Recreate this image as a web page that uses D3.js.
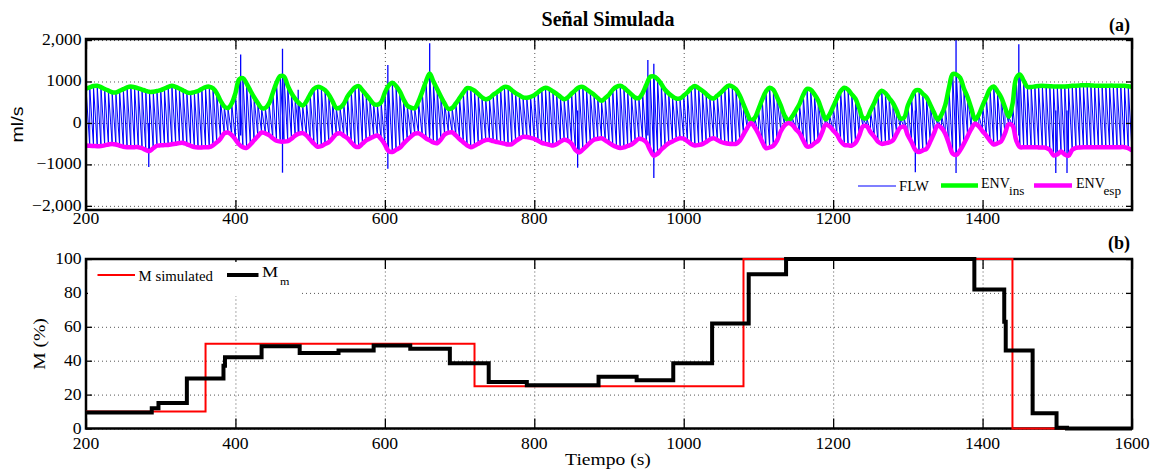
<!DOCTYPE html>
<html>
<head>
<meta charset="utf-8">
<script src="https://cdn.jsdelivr.net/npm/d3@7"></script>
<style>
body { margin: 0; background: #fff; }
text { font-family: "Liberation Serif", "Times New Roman", serif; fill: #000; }
.grid line { stroke: #555; stroke-width: 1; stroke-dasharray: 1,3; }
.grid path, .ticks path { display: none; }
.ticks line { stroke: #000; stroke-width: 1.3; }
.frame { fill: none; stroke: #000; stroke-width: 2.5; }
</style>
</head>
<body>
<svg width="1160" height="473"></svg>
<script>
// envelopes, one value every 5 s from 200 to 1600
var envTime = d3.range(200, 1601, 5);

var envIns = [
  830, 860, 890, 895, 865, 820, 780, 740, 735, 775,
  815, 860, 880, 860, 835, 805, 775, 750, 755, 770,
  790, 830, 870, 895, 870, 830, 785, 740, 725, 745,
  770, 820, 865, 875, 835, 720, 540, 400, 360, 470,
  720, 1050, 1080, 950, 780, 620, 480, 360, 360, 470,
  720, 970, 1130, 1120, 900, 720, 580, 480, 420, 520,
  690, 820, 870, 850, 790, 680, 520, 360, 370, 460,
  640, 760, 860, 890, 790, 680, 570, 460, 440, 500,
  730, 900, 970, 890, 760, 570, 420, 370, 355, 520,
  750, 1000, 1190, 1000, 820, 640, 470, 340, 360, 470,
  600, 730, 840, 830, 780, 700, 620, 570, 600, 680,
  740, 810, 870, 860, 790, 720, 670, 616, 610, 630,
  670, 740, 810, 850, 820, 760, 700, 630, 570, 620,
  710, 790, 860, 870, 810, 745, 680, 600, 536, 600,
  680, 800, 870, 895, 850, 770, 690, 610, 600, 720,
  920, 1110, 1120, 1056, 940, 800, 710, 640, 590, 590,
  660, 740, 840, 890, 840, 776, 700, 620, 590, 660,
  736, 830, 900, 880, 810, 660, 450, 230, 60, 120,
  330, 560, 760, 850, 800, 620, 416, 180, 60, 150,
  300, 460, 680, 820, 800, 690, 540, 300, 90, 200,
  390, 590, 770, 850, 800, 690, 580, 350, 120, 120,
  300, 480, 680, 776, 720, 600, 480, 300, 110, 130,
  420, 620, 780, 790, 700, 616, 440, 250, 80, 200,
  430, 850, 1180, 1170, 1090, 830, 620, 350, 80, 200,
  420, 620, 820, 880, 760, 616, 380, 150, 450, 1080,
  1170, 1020, 870, 870, 880, 890, 895, 890, 885, 880,
  880, 880, 880, 885, 895, 900, 905, 910, 910, 905,
  900, 895, 895, 896, 900, 900, 898, 896, 895, 885,
  872
];

var envEsp = [
  -544, -550, -555, -560, -555, -540, -520, -505, -520, -550,
  -575, -585, -585, -584, -584, -610, -650, -680, -610, -550,
  -540, -535, -530, -515, -500, -485, -482, -515, -550, -580,
  -590, -590, -585, -584, -540, -470, -380, -250, -230, -290,
  -400, -520, -585, -600, -520, -420, -320, -230, -250, -295,
  -370, -430, -450, -450, -440, -380, -304, -260, -245, -300,
  -400, -500, -575, -560, -510, -464, -370, -270, -250, -310,
  -370, -470, -560, -580, -500, -420, -375, -330, -304, -390,
  -520, -680, -700, -650, -600, -500, -410, -330, -260, -250,
  -300, -370, -420, -470, -490, -400, -280, -235, -225, -300,
  -390, -464, -540, -584, -550, -500, -450, -415, -410, -440,
  -460, -480, -500, -520, -510, -440, -380, -335, -340, -360,
  -384, -430, -480, -505, -525, -544, -510, -450, -405, -430,
  -504, -650, -710, -640, -560, -470, -405, -385, -370, -420,
  -480, -540, -580, -605, -590, -555, -520, -450, -384, -400,
  -470, -650, -790, -740, -640, -560, -490, -448, -400, -370,
  -380, -440, -510, -544, -530, -510, -460, -400, -370, -410,
  -460, -485, -500, -505, -504, -430, -280, -120, 0, -100,
  -260, -450, -608, -590, -550, -420, -200, -60, 0, -40,
  -150, -250, -420, -570, -560, -490, -424, -240, -40, -80,
  -180, -280, -440, -530, -540, -545, -480, -300, -80, -80,
  -220, -330, -450, -504, -490, -470, -420, -260, -110, -90,
  -300, -464, -650, -700, -660, -624, -450, -250, -60, -120,
  -260, -500, -740, -770, -660, -500, -320, -140, -20, -80,
  -200, -304, -430, -520, -490, -440, -250, -30, -60, -420,
  -584, -584, -584, -584, -585, -590, -595, -600, -650, -780,
  -760, -688, -760, -790, -650, -600, -590, -585, -584, -584,
  -584, -584, -584, -584, -584, -584, -584, -584, -584, -610,
  -664
];

// isolated FLW peaks that stick out of the envelopes
var spikeTime = [284, 407, 463, 484, 604, 660, 858, 952, 960, 1310, 1364.5, 1448.5, 1498, 1513];
var spikeHi   = [0, 1650, 1790, 800, 1400, 1920, 300, 1520, 1430, 300, 2000, 1900, 300, 300];
var spikeLo   = [-1060, -300, -1200, -300, -1105, -300, -1080, -300, -1330, -1190, -1205, -300, -1205, -1205];

// panel (b)
var mSimTime  = [200, 360, 720, 1080, 1440, 1600];
var mSimValue = [10, 50, 25, 100, 0, 0];

var mmTime  = [200, 288, 297, 335, 384, 386, 435, 486, 538, 585, 634, 687, 739, 790, 886, 937, 986, 1038, 1087, 1137, 1389, 1429, 1431, 1467, 1499, 1513, 1600];
var mmValue = [9.5, 12, 15, 29.5, 37, 42, 48.5, 44.5, 46, 49, 47, 38.5, 27.5, 25.5, 30.5, 28.5, 38.5, 62, 91, 100, 82, 63, 46, 9, 0.5, 0, 0];

var xTicks = [200, 400, 600, 800, 1000, 1200, 1400, 1600];
var flwTicks = [2000, 1000, 0, -1000, -2000];
var flwTickLabels = ["2,000", "1000", "0", "\u22121000", "\u22122,000"];
var mTicks = [0, 20, 40, 60, 80, 100];

var svg = d3.select("svg"),
    left = 86, right = 1132,
    panelA = {top: 39, bottom: 210},
    panelB = {top: 259, bottom: 428.5};

var x  = d3.scaleLinear().domain([200, 1600]).range([left, right]),
    yA = d3.scaleLinear().domain([-2100, 2025]).range([panelA.bottom, panelA.top]),
    yB = d3.scaleLinear().domain([0, 100]).range([panelB.bottom, panelB.top]);

svg.append("rect").attr("width", 1160).attr("height", 473).attr("fill", "#fff");

function addText(str, px, py, size, sx, anchor, rot) {
  return svg.append("text")
    .attr("transform", "translate(" + px + "," + py + ")" + (rot ? " rotate(" + rot + ")" : "") + " scale(" + sx + ",1)")
    .attr("text-anchor", anchor)
    .style("font-size", size + "px")
    .text(str);
}

function grid(y, yTicks, p) {
  svg.append("g").attr("class", "grid")
      .attr("transform", "translate(0," + p.bottom + ")")
      .call(d3.axisBottom(x).tickValues(xTicks.slice(1, -1)).tickSize(-(p.bottom - p.top)).tickFormat(""));
  svg.append("g").attr("class", "grid")
      .attr("transform", "translate(" + left + ",0)")
      .call(d3.axisLeft(y).tickValues(yTicks).tickSize(-(right - left)).tickFormat(""));
}

function frame(y, yTicks, p) {
  svg.append("g").attr("class", "ticks").attr("transform", "translate(0," + p.bottom + ")")
      .call(d3.axisBottom(x).tickValues(xTicks).tickSize(-10).tickFormat(""));
  svg.append("g").attr("class", "ticks").attr("transform", "translate(0," + p.top + ")")
      .call(d3.axisTop(x).tickValues(xTicks).tickSize(-10).tickFormat(""));
  svg.append("g").attr("class", "ticks").attr("transform", "translate(" + left + ",0)")
      .call(d3.axisLeft(y).tickValues(yTicks).tickSize(-6).tickFormat(""));
  svg.append("g").attr("class", "ticks").attr("transform", "translate(" + right + ",0)")
      .call(d3.axisRight(y).tickValues(yTicks).tickSize(-6).tickFormat(""));
  svg.append("rect").attr("class", "frame")
      .attr("x", left).attr("y", p.top)
      .attr("width", right - left).attr("height", p.bottom - p.top);
}

function clip(id, p, pad) {
  svg.append("clipPath").attr("id", id).append("rect")
      .attr("x", left).attr("y", p.top - pad)
      .attr("width", right - left).attr("height", p.bottom - p.top + 2 * pad);
}

// ---------- panel (a) ----------
clip("clipA", panelA, 0);
grid(yA, flwTicks, panelA);

var gA = svg.append("g").attr("clip-path", "url(#clipA)");

var flwPoints = [];
envTime.forEach(function(t, i) {
  flwPoints.push([t, envEsp[i]], [t, envIns[i]]);
});

var flwLine = d3.line()
    .x(function(d) { return x(d[0]); })
    .y(function(d) { return yA(d[1]); });

gA.append("path")
    .attr("d", flwLine(flwPoints))
    .attr("fill", "none")
    .attr("stroke", "#0000ff")
    .attr("stroke-width", 1);

gA.selectAll(".spike")
    .data(spikeTime)
  .enter().append("line")
    .attr("class", "spike")
    .attr("x1", function(d) { return x(d); })
    .attr("x2", function(d) { return x(d); })
    .attr("y1", function(d, i) { return yA(spikeLo[i]); })
    .attr("y2", function(d, i) { return yA(spikeHi[i]); })
    .attr("stroke", "#0000ff")
    .attr("stroke-width", 1.3);

var envLine = d3.line()
    .curve(d3.curveCatmullRom)
    .x(function(d, i) { return x(envTime[i]); })
    .y(function(d) { return yA(d); });

gA.append("path")
    .attr("d", envLine(envIns))
    .attr("fill", "none")
    .attr("stroke", "#00ff00")
    .attr("stroke-width", 4.5);

gA.append("path")
    .attr("d", envLine(envEsp))
    .attr("fill", "none")
    .attr("stroke", "#ff00ff")
    .attr("stroke-width", 4.5);

// legend (a)
svg.append("rect").attr("x", 852).attr("y", 173).attr("width", 278).attr("height", 29).attr("fill", "#fff");
svg.append("line").attr("x1", 858).attr("x2", 896).attr("y1", 186).attr("y2", 186)
    .attr("stroke", "#0000ff").attr("stroke-width", 1.2);
addText("FLW", 899, 190.5, 14, 1.05, "start");
svg.append("line").attr("x1", 941).attr("x2", 978).attr("y1", 185.5).attr("y2", 185.5)
    .attr("stroke", "#00ff00").attr("stroke-width", 4.5);
addText("ENV", 981, 188, 14, 1.0, "start");
addText("ins", 1009, 194.5, 12, 1.1, "start");
svg.append("line").attr("x1", 1034).attr("x2", 1072).attr("y1", 185.5).attr("y2", 185.5)
    .attr("stroke", "#ff00ff").attr("stroke-width", 4.5);
addText("ENV", 1076, 188, 14, 1.0, "start");
addText("esp", 1103.5, 194.5, 12, 1.1, "start");

frame(yA, flwTicks, panelA);

xTicks.slice(0, -1).forEach(function(t) {
  addText(t, x(t), 223.5, 16, 1.1, "middle");
});
flwTicks.forEach(function(v, i) {
  addText(flwTickLabels[i], 81.5, yA(v) + 5, 16, 1.1, "end");
});

addText("ml/s", 23, 124.5, 17, 1.15, "middle", -90)
    .style("font-family", "'Liberation Sans', Arial, sans-serif");
addText("Señal Simulada", 608, 25.5, 20, 1.0, "middle").style("font-weight", "bold");
addText("(a)", 1130, 30.5, 18, 1.0, "end").style("font-weight", "bold");

// ---------- panel (b) ----------
clip("clipB", panelB, 3);
grid(yB, mTicks, panelB);
frame(yB, mTicks, panelB);

var gB = svg.append("g").attr("clip-path", "url(#clipB)");

var stepLine = d3.line()
    .curve(d3.curveStepAfter)
    .x(function(d) { return x(d[0]); })
    .y(function(d) { return yB(d[1]); });

gB.append("path")
    .attr("d", stepLine(mSimTime.map(function(t, i) { return [t, mSimValue[i]]; })))
    .attr("fill", "none")
    .attr("stroke", "#ff0000")
    .attr("stroke-width", 2);

gB.append("path")
    .attr("d", stepLine(mmTime.map(function(t, i) { return [t, mmValue[i]]; })))
    .attr("fill", "none")
    .attr("stroke", "#000")
    .attr("stroke-width", 4);

// legend (b)
svg.append("rect").attr("x", 88).attr("y", 262).attr("width", 212).attr("height", 34).attr("fill", "#fff");
svg.append("line").attr("x1", 97.5).attr("x2", 135).attr("y1", 275).attr("y2", 275)
    .attr("stroke", "#ff0000").attr("stroke-width", 2);
addText("M simulated", 138.5, 280.5, 14, 1.06, "start");
svg.append("line").attr("x1", 227).attr("x2", 258.5).attr("y1", 275).attr("y2", 275)
    .attr("stroke", "#000").attr("stroke-width", 4);
addText("M", 262, 277, 14, 1.3, "start");
addText("m", 280, 285, 11, 1.1, "start");

xTicks.forEach(function(t) {
  addText(t, x(t), 448.5, 16, 1.1, "middle");
});
mTicks.forEach(function(v) {
  addText(v, 81.5, yB(v) + 5, 16, 1.1, "end");
});

addText("M (%)", 45, 344, 17.5, 1.12, "middle", -90);
addText("Tiempo (s)", 608, 465, 17.5, 1.12, "middle");
addText("(b)", 1130, 249, 18, 1.0, "end").style("font-weight", "bold");
</script>
</body>
</html>
